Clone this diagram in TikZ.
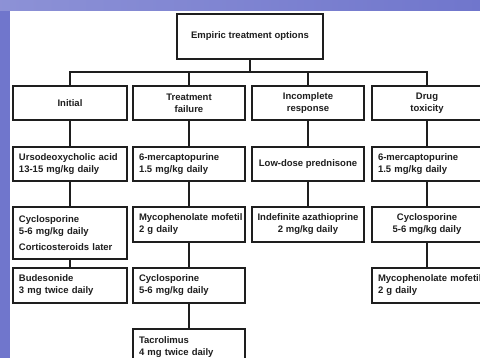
\documentclass[tikz,border=0pt]{standalone}
\usepackage{fontspec}
\setmainfont{Liberation Sans}
\definecolor{bgblue}{RGB}{112,118,204}
\definecolor{ink}{RGB}{30,30,30}
\begin{document}
\begin{tikzpicture}[x=1pt,y=-1pt,
  box/.style={draw=ink, line width=1.4pt, outer sep=0pt, inner xsep=6pt, inner ysep=2pt,
    anchor=north, font=\bfseries\fontsize{9.5}{12}\selectfont, text=ink},
  conn/.style={draw=ink, line width=1.4pt}]
\useasboundingbox (0,0) rectangle (480,358);
\clip (0,0) rectangle (480,358);
\fill[bgblue] (0,0) rectangle (480,358);
\shade[left color=bgblue!80!white, right color=bgblue] (0,0) rectangle (480,11);
\fill[white] (10,11) rectangle (480,358);

% top
\node[box, align=center, minimum width=146pt, minimum height=45pt] (top) at (250,14) {Empiric treatment options};
% level 1
\node[box, align=center, minimum width=114pt, minimum height=34pt] (l1a) at (70,86) {Initial};
\node[box, align=center, minimum width=112pt, minimum height=34pt] (l1b) at (189,86) {Treatment\\failure};
\node[box, align=center, minimum width=112pt, minimum height=34pt] (l1c) at (308,86) {Incomplete\\response};
\node[box, align=center, minimum width=110pt, minimum height=34pt] (l1d) at (427,86) {Drug\\toxicity};
% level 2
\node[box, align=left, text width=102pt, minimum height=34pt] (l2a) at (70,147) {Ursodeoxycholic~acid\\13-15 mg/kg daily};
\node[box, align=left, text width=100pt, minimum height=34pt] (l2b) at (189,147) {6-mercaptopurine\\1.5 mg/kg daily};
\node[box, align=center, minimum width=112pt, minimum height=34pt] (l2c) at (308,147) {Low-dose prednisone};
\node[box, align=left, text width=98pt, minimum height=34pt] (l2d) at (427,147) {6-mercaptopurine\\1.5 mg/kg daily};
% level 3
\node[box, align=left, text width=102pt, minimum height=52pt] (l3a) at (70,207) {Cyclosporine\\5-6 mg/kg daily\\[4pt]Corticosteroids~later};
\node[box, align=left, text width=100pt, minimum height=35pt] (l3b) at (189,207) {Mycophenolate~mofetil\\2 g daily};
\node[box, align=center, inner xsep=2pt, minimum width=112pt, minimum height=35pt] (l3c) at (308,207) {Indefinite azathioprine\\2 mg/kg daily};
\node[box, align=center, minimum width=110pt, minimum height=35pt] (l3d) at (427,207) {Cyclosporine\\5-6 mg/kg daily};
% level 4
\node[box, align=left, text width=102pt, minimum height=35pt] (l4a) at (70,268) {Budesonide\\3 mg twice daily};
\node[box, align=left, text width=100pt, minimum height=35pt] (l4b) at (189,268) {Cyclosporine\\5-6 mg/kg daily};
\node[box, align=left, text width=98pt, minimum height=35pt] (l4d) at (427,268) {Mycophenolate~mofetil\\2 g daily};
% level 5
\node[box, align=left, text width=100pt, minimum height=36pt] (l5b) at (189,329) {Tacrolimus\\4 mg twice daily};

% connectors
\coordinate (bus) at (250,72);
\draw[conn] (top.south) -- (bus);
\draw[conn] (l1a.north) |- (bus) -| (l1d.north);
\draw[conn] (l1b.north) -- (l1b.north |- bus);
\draw[conn] (l1c.north) -- (l1c.north |- bus);
\draw[conn] (l1a.south) -- (l2a.north);
\draw[conn] (l1b.south) -- (l2b.north);
\draw[conn] (l1c.south) -- (l2c.north);
\draw[conn] (l1d.south) -- (l2d.north);
\draw[conn] (l2a.south) -- (l3a.north);
\draw[conn] (l2b.south) -- (l3b.north);
\draw[conn] (l2c.south) -- (l3c.north);
\draw[conn] (l2d.south) -- (l3d.north);
\draw[conn] (l3a.south) -- (l4a.north);
\draw[conn] (l3b.south) -- (l4b.north);
\draw[conn] (l3d.south) -- (l4d.north);
\draw[conn] (l4b.south) -- (l5b.north);
\end{tikzpicture}
\end{document}
